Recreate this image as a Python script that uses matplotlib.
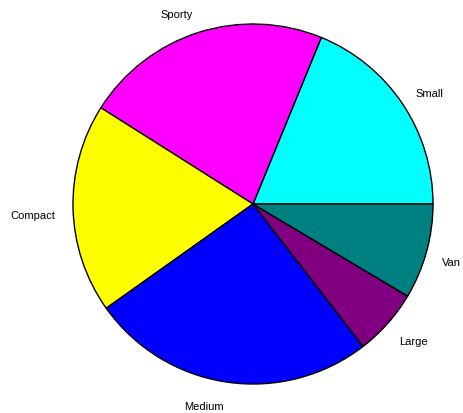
import matplotlib
matplotlib.use('Agg')
import matplotlib.pyplot as plt
from matplotlib.transforms import offset_copy

# car types (cu.summary)
types = ['Small', 'Sporty', 'Compact', 'Medium', 'Large', 'Van']
counts = [22, 26, 22, 30, 7, 10]
colors = ['#00ffff', '#ff00ff', '#ffff00', '#0000ff', '#800080', '#008080']

plt.rcParams['font.family'] = ['Liberation Sans', 'DejaVu Sans']

fig = plt.figure(figsize=(4.63, 4.13), dpi=100)
ax = fig.add_axes([0, 0, 1, 1])

wedges, texts = ax.pie(counts, labels=types, colors=colors, startangle=0,
                       counterclock=True, radius=1.0, labeldistance=1.1,
                       wedgeprops={'edgecolor': 'black', 'linewidth': 1.0},
                       textprops={'fontsize': 8})

# labels in the lower half sit a bit lower, right-side ones a bit left
for t in texts:
    x, y = t.get_position()
    dx = -1.5 if x > 0 else 0
    dy = -5 if y < 0 else 0
    t.set_transform(offset_copy(ax.transData, fig=fig, x=dx, y=dy, units='points'))

# centre of pie at (253, 204) px, radius 180 px
ax.set_xlim(-253 / 180, (463 - 253) / 180)
ax.set_ylim(-(413 - 204) / 180, 204 / 180)
ax.set_aspect('auto')
ax.axis('off')

fig.savefig('out.png', dpi=100)
